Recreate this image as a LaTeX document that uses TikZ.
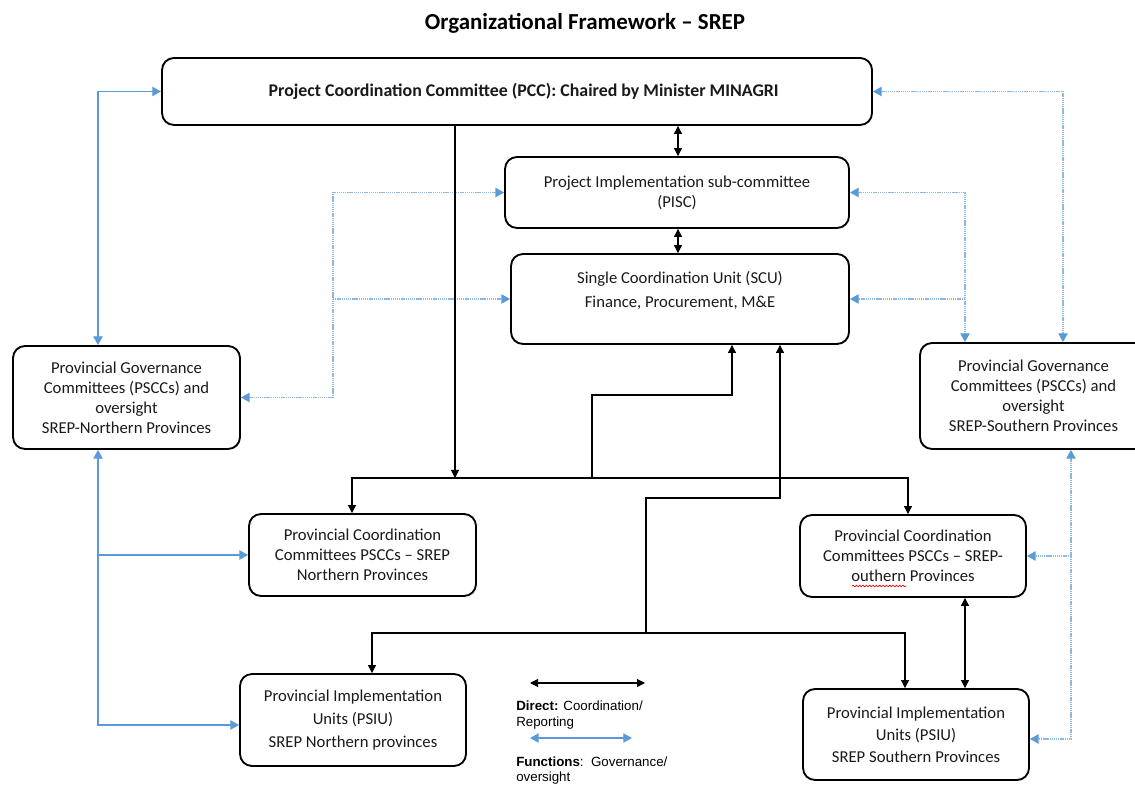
\documentclass[tikz,border=0pt]{standalone}
\usepackage{fontspec}
\setmainfont{Carlito}
\newfontfamily\legendfont{Liberation Sans}
\usetikzlibrary{arrows.meta,decorations.pathmorphing,calc}
\definecolor{officeblue}{HTML}{5B9BD5}
\definecolor{dotblue}{HTML}{8DB8E3}
\definecolor{boxtext}{HTML}{1A1A1A}
\begin{document}
\begin{tikzpicture}[x=0.75pt,y=-0.75pt,
  box/.style={draw=black,line width=1.4pt,rounded corners=9pt,fill=white,align=center,
    text=boxtext,font=\fontsize{12.5}{15}\selectfont,inner sep=2pt},
  blk/.style={draw=black,line width=0.8pt,-{Triangle[length=6pt,width=6pt]}},
  blkboth/.style={draw=black,line width=0.8pt,{Triangle[length=6pt,width=6pt]}-{Triangle[length=6pt,width=6pt]}},
  bsolid/.style={draw=officeblue,line width=0.8pt},
  bdot/.style={draw=dotblue,line width=0.9pt,dash pattern=on 1pt off 0.6pt},
  barr/.style={-{Triangle[length=6.5pt,width=7pt,fill=officeblue,color=officeblue]}},
  barrboth/.style={{Triangle[length=6.5pt,width=7pt,fill=officeblue,color=officeblue]}-{Triangle[length=6.5pt,width=7pt,fill=officeblue,color=officeblue]}},
]
\useasboundingbox (0,0) rectangle (1135,787);

% title
\node[font=\fontsize{17.2}{20}\selectfont\bfseries] (title) at (585,23) {Organizational Framework – SREP};

% boxes
\node[box,minimum width=532.5pt,minimum height=50.25pt,font=\fontsize{13.4}{15}\selectfont\bfseries] (pcc) at (517,91.5)
  {\hspace*{10pt}Project Coordination Committee (PCC): Chaired by Minister MINAGRI};
\node[box,minimum width=258pt,minimum height=53.25pt] (pisc) at (677,192.5)
  {Project Implementation sub-committee\\(PISC)};
\node[box,minimum width=253.5pt,minimum height=67.5pt] (scu) at (680,299) {};
\node[align=center,text=boxtext,font=\fontsize{12.5}{18}\selectfont] (scut) at (680,290)
  {Single Coordination Unit (SCU)\\Finance, Procurement, M\&E};
\node[box,minimum width=170.25pt,minimum height=77.25pt] (pgcn) at (126.5,397.5)
  {Provincial Governance\\Committees (PSCCs) and\\oversight\\SREP-Northern Provinces};
\node[box,minimum width=170.25pt,minimum height=79.5pt] (pgcs) at (1033.5,396)
  {Provincial Governance\\Committees (PSCCs) and\\oversight\\SREP-Southern Provinces};
\node[box,minimum width=170.25pt,minimum height=61.5pt] (pccn) at (362.5,555)
  {Provincial Coordination\\Committees PSCCs – SREP\\Northern Provinces};
\node[box,minimum width=169.5pt,minimum height=61.5pt] (pccs) at (913,556)
  {Provincial Coordination\\Committees PSCCs – SREP-\\outhern Provinces};
\node[box,minimum width=169.5pt,minimum height=69pt,font=\fontsize{12.5}{17}\selectfont] (piun) at (353,720)
  {Provincial Implementation\\Units (PSIU)\\SREP Northern provinces};
\node[box,minimum width=169.5pt,minimum height=68.25pt,font=\fontsize{12.5}{16.5}\selectfont] (pius) at (916,734.5)
  {Provincial Implementation\\Units (PSIU)\\SREP Southern Provinces};

% spell-check underline
\coordinate (sq1) at (852,586);
\coordinate (sq2) at (906,586);
\draw[red,line width=0.5pt,decorate,decoration={snake,segment length=2.5pt,amplitude=0.6pt}] (sq1) -- (sq2);

% helper coordinates
\coordinate (xL) at (98,0);
\coordinate (xM) at (333,0);
\coordinate (xR1) at (965,0);
\coordinate (xR2) at (1063,0);
\coordinate (xR3) at (1071,0);
\coordinate (xP) at (455,0);
\coordinate (xQ) at (592,0);
\coordinate (xS1) at (732,0);
\coordinate (xS2) at (780,0);
\coordinate (xT) at (646,0);
\coordinate (xU1) at (372,0);
\coordinate (xU2) at (905,0);
\coordinate (xN1) at (352,0);
\coordinate (xN2) at (908,0);
\coordinate (xV) at (965,0);
\coordinate (xW) at (678,0);
\coordinate (yA) at (0,478);
\coordinate (yB) at (0,633);
\coordinate (yPN) at (0,725);
\coordinate (yPS) at (0,739);
\coordinate (jn1) at (592,395);
\coordinate (jn2) at (646,498);

% blue solid (left)
\draw[bsolid,barrboth] (pcc.west) -| (xL |- pgcn.north);
\draw[bsolid,barrboth] (pgcn.south -| xL) -- (xL |- yPN) -- (piun.west |- yPN);
\draw[bsolid,barr] (xL |- pccn.west) -- (pccn.west);

% blue dotted (left-centre)
\draw[bdot,barrboth] (pisc.west) -| (xM |- pgcn.east) -- (pgcn.east);
\draw[bdot,barr] (xM |- scu.west) -- (scu.west);

% blue dotted (right)
\draw[bdot,barrboth] (pcc.east) -| (xR2 |- pgcs.north);
\draw[bdot,barrboth] (pisc.east) -| (xR1 |- pgcs.north);
\draw[bdot,barr] (xR1 |- scu.east) -- (scu.east);
\draw[bdot,barrboth] (pgcs.south -| xR3) -- (xR3 |- yPS) -- (pius.east |- yPS);
\draw[bdot,barr] (xR3 |- pccs.east) -- (pccs.east);

% black connectors
\draw[blkboth] (pcc.south -| xW) -- (pisc.north -| xW);
\draw[blkboth] (pisc.south -| xW) -- (scu.north -| xW);
\draw[blk] (pcc.south -| xP) -- (xP |- yA);
\draw[blkboth] (pccn.north -| xN1) |- (xP |- yA) -| (pccs.north -| xN2);
\draw[blk] (xQ |- yA) -- (jn1) -| (scu.south -| xS1);
\draw[blk] (xT |- yB) -- (jn2) -| (scu.south -| xS2);
\draw[blkboth] (piun.north -| xU1) |- (xT |- yB) -| (pius.north -| xU2);
\draw[blkboth] (pccs.south -| xV) -- (pius.north -| xV);

% legend
\coordinate (lg1a) at (530,683);
\coordinate (lg1b) at (645,683);
\coordinate (lg2a) at (530,738);
\coordinate (lg2b) at (632,738);
\draw[blkboth] (lg1a) -- (lg1b);
\draw[bsolid,barrboth] (lg2a) -- (lg2b);
\node[anchor=north west,align=left,inner sep=0pt,font=\legendfont\fontsize{10}{12}\selectfont] (lgt1) at (516,701)
  {\textbf{Direct:} Coordination/\\Reporting};
\node[anchor=north west,align=left,inner sep=0pt,font=\legendfont\fontsize{10}{11}\selectfont] (lgt2) at (516,757)
  {\textbf{Functions}:\ \ Governance/\\oversight};
\end{tikzpicture}
\end{document}
